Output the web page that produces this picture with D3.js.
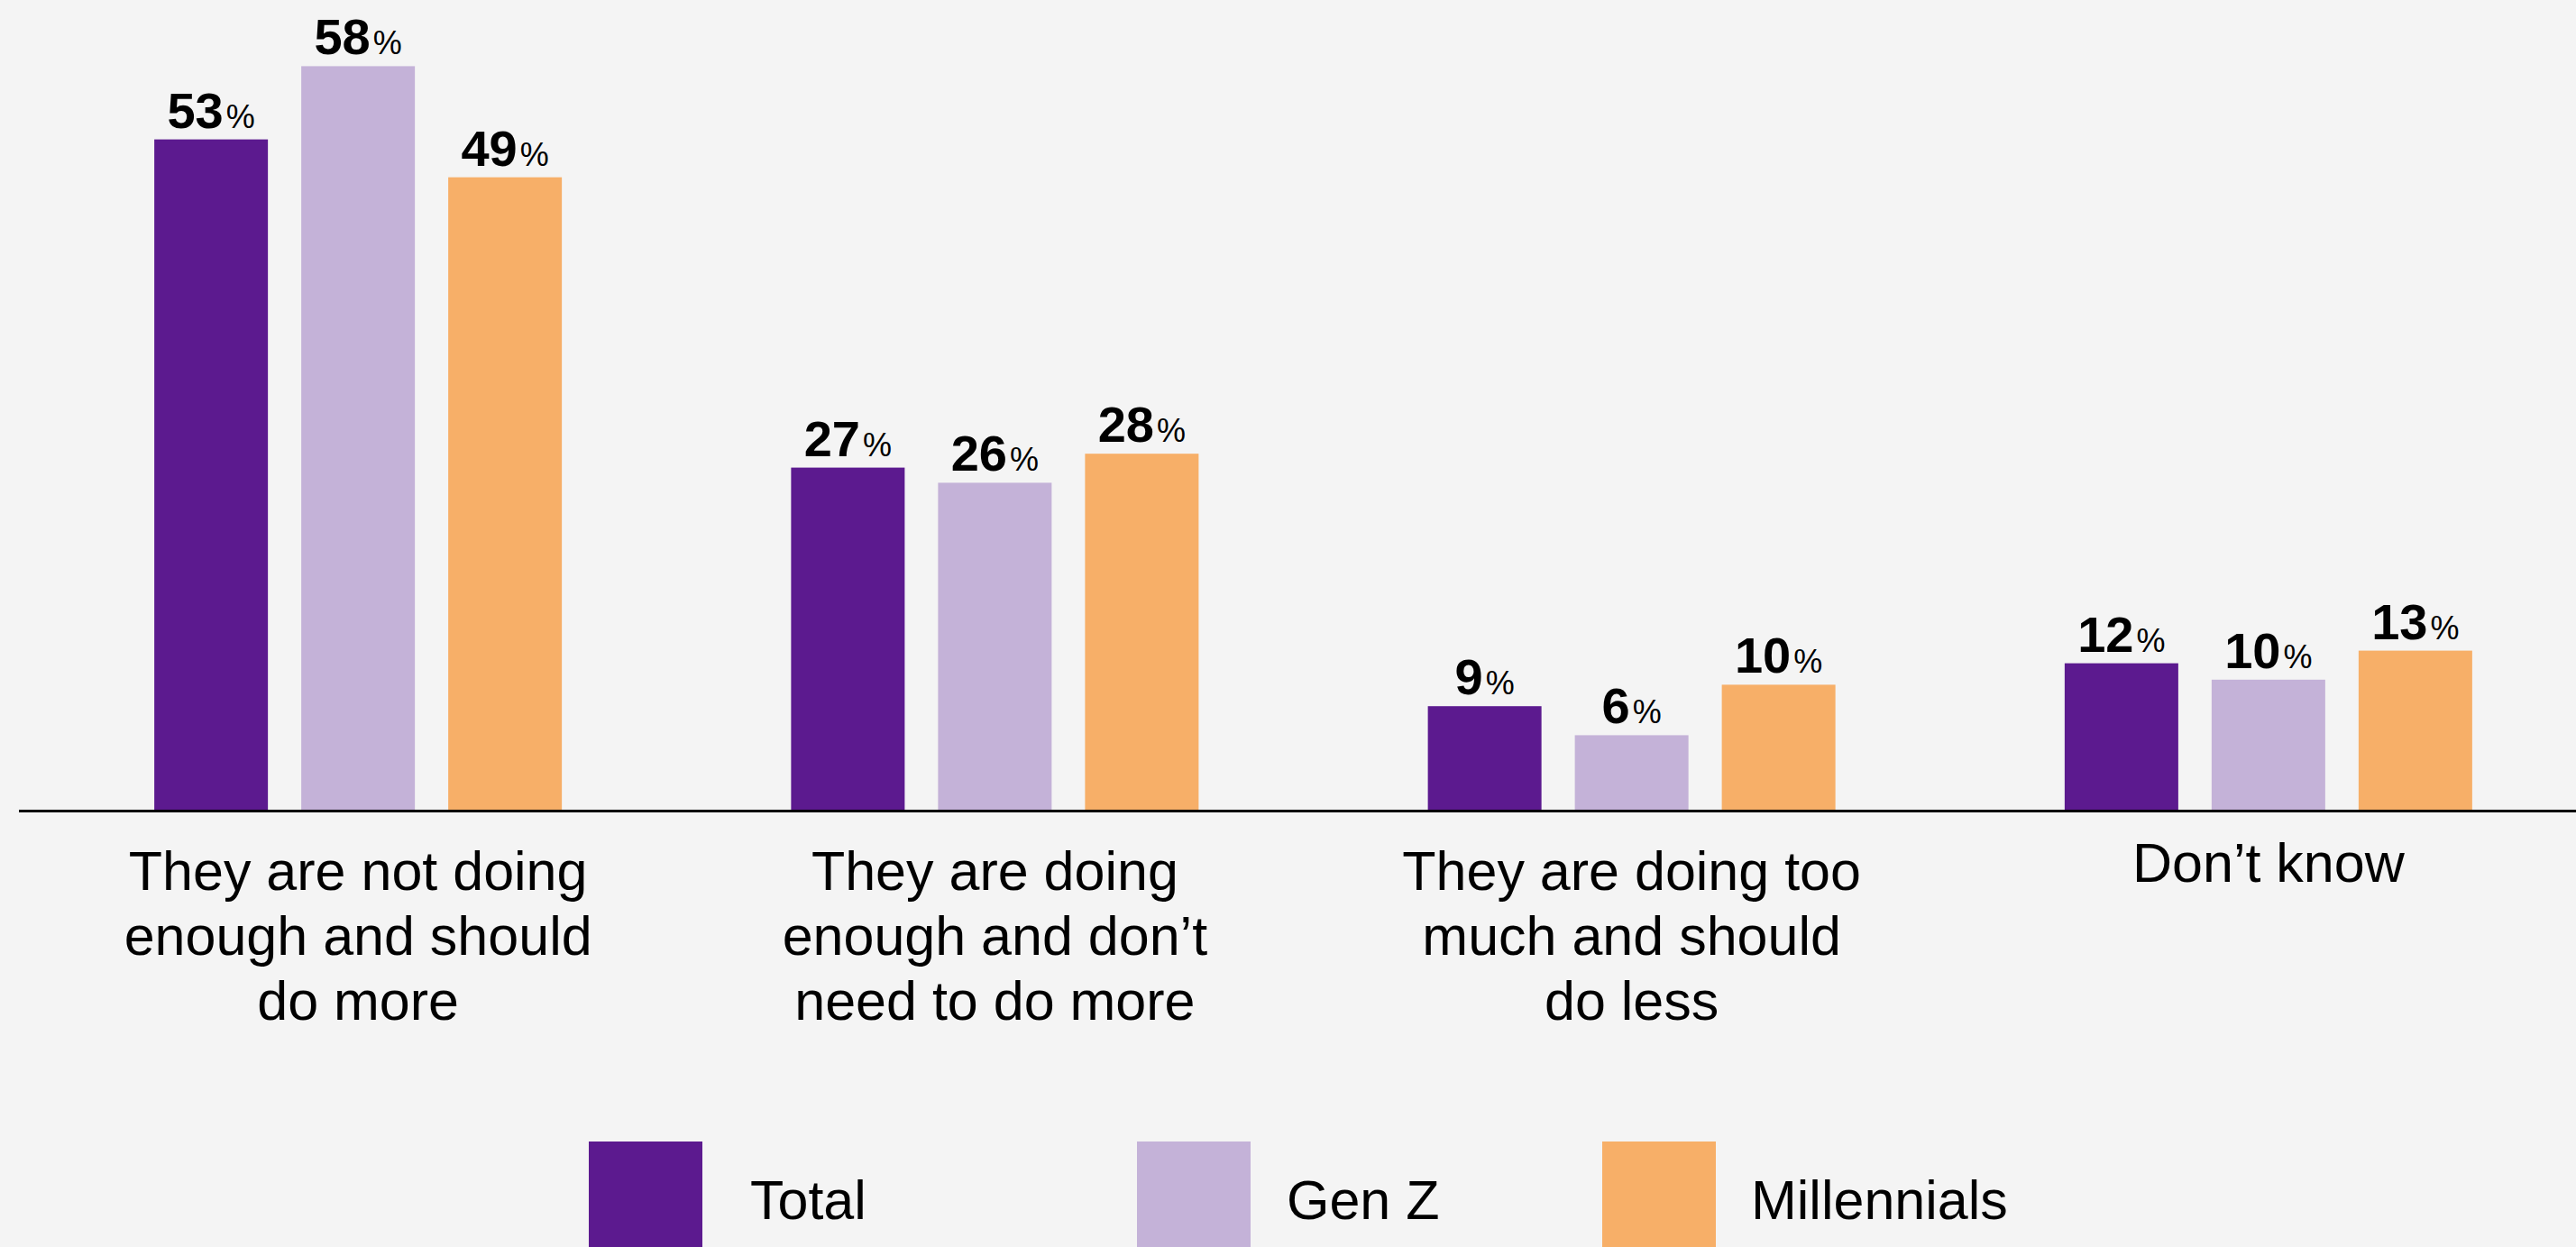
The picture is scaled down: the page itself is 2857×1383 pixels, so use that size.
<!DOCTYPE html>
<html>
<head>
<meta charset="utf-8">
<script src="https://cdn.jsdelivr.net/npm/d3@7"></script>
<style>
  html, body { margin: 0; padding: 0; background: #f4f4f4; }
  svg { display: block; }
  text { font-family: "Helvetica Neue", Helvetica, "Liberation Sans", Arial, sans-serif; fill: #000; }
</style>
</head>
<body>
<div id="chart"></div>
<script>
// data
var categories = [
  ["They are not doing", "enough and should", "do more"],
  ["They are doing", "enough and don\u2019t", "need to do more"],
  ["They are doing too", "much and should", "do less"],
  ["Don\u2019t know"]
];
var series = ["Total", "Gen Z", "Millennials"];
// bar values
var total = [53.1, 27.1, 8.2, 11.6];
var genz = [58.9, 25.9, 5.9, 10.3];
var millennials = [50.1, 28.2, 9.9, 12.6];
// printed labels
var total_lbl = [53, 27, 9, 12];
var genz_lbl = [58, 26, 6, 10];
var millennials_lbl = [49, 28, 10, 13];
var colors = ["#5c1a8f", "#c4b2d8", "#f7af68"];

var W = 2857, H = 1383;
var base_y = 898;

var vals = [total, genz, millennials], lbls = [total_lbl, genz_lbl, millennials_lbl];
var rows = [];
categories.forEach(function(c, i) {
  series.forEach(function(s, j) {
    rows.push({ cat: i, s: s, v: vals[j][i], label: lbls[j][i], color: colors[j] });
  });
});

var svg = d3.select("#chart").append("svg").attr("width", W).attr("height", H);

var x0 = d3.scaleBand().domain(d3.range(categories.length)).range([44, 2869]).padding(0);
var x1 = d3.scaleBand().domain(series).range([0, 452]).paddingInner(0.227).paddingOuter(0);
var y = d3.scaleLinear().domain([0, 60]).range([base_y, base_y - 60 * 14]);

function group_left(i) { return x0(i) + x0.bandwidth() / 2 - 226; }

var bars = svg.append("g").attr("class", "bars");
bars.selectAll("rect").data(rows).enter().append("rect")
  .attr("x", function(d) { return group_left(d.cat) + x1(d.s); })
  .attr("y", function(d) { return y(d.v); })
  .attr("width", x1.bandwidth())
  .attr("height", function(d) { return y(0) - y(d.v); })
  .attr("fill", function(d) { return d.color; });

// value labels
var lbl = bars.selectAll("text.val").data(rows).enter().append("text")
  .attr("class", "val")
  .attr("x", function(d) { return group_left(d.cat) + x1(d.s) + x1.bandwidth() / 2; })
  .attr("y", function(d) { return y(d.v) - 13; })
  .attr("text-anchor", "middle");
lbl.append("tspan").attr("font-size", 56).attr("font-weight", "bold").text(function(d) { return d.label; });
lbl.append("tspan").attr("font-size", 36).attr("dx", 3).text("%");

// baseline
svg.append("line").attr("x1", 21).attr("x2", W).attr("y1", base_y + 1.5).attr("y2", base_y + 1.5)
  .attr("stroke", "#000").attr("stroke-width", 3);

// category labels
var cats = svg.append("g").attr("class", "cats");
cats.selectAll("text").data(categories).enter().append("text")
  .attr("text-anchor", "middle")
  .attr("font-size", 61)
  .attr("transform", function(d, i) {
    return "translate(" + (x0(i) + x0.bandwidth() / 2) + "," + (d.length > 1 ? 987 : 978) + ")";
  })
  .each(function(d) {
    d3.select(this).selectAll("tspan").data(d).enter().append("tspan")
      .attr("x", 0).attr("dy", function(t, k) { return k == 0 ? 0 : 72; })
      .text(function(t) { return t; });
  });

// legend
var legend_x = [653, 1261, 1777];
var legend_tx = [832, 1427, 1942];
var leg = svg.append("g").attr("class", "legend").selectAll("g").data(series).enter().append("g");
leg.append("rect").attr("x", function(d, i) { return legend_x[i]; }).attr("y", 1266)
  .attr("width", 126).attr("height", 140).attr("fill", function(d, i) { return colors[i]; });
leg.append("text").attr("x", function(d, i) { return legend_tx[i]; }).attr("y", 1352)
  .attr("font-size", 61).text(function(d) { return d; });
</script>
</body>
</html>
